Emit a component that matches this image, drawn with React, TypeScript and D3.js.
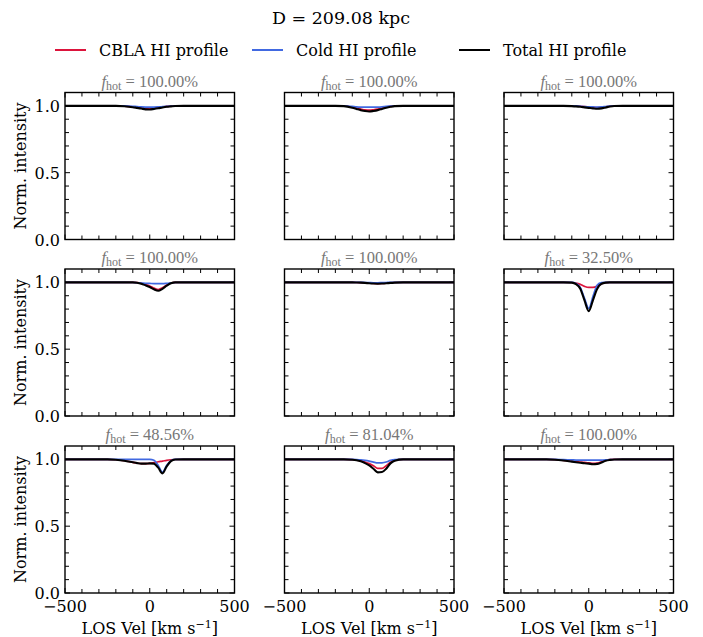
import React from "react";
import * as d3 from "d3";

const TITLE = "D = 209.08 kpc";
const LEGEND_LABELS = ["CBLA HI profile", "Cold HI profile", "Total HI profile"];
const SERIES_COLORS = ["#DC143C", "#4169E1", "#000000"];

const X_TICKS_MAJOR = [-500, 0, 500];
const X_TICKS_MINOR = [-400, -300, -200, -100, 100, 200, 300, 400];
const Y_TICKS_MAJOR = [0.0, 0.5, 1.0];
const Y_TICKS_MINOR = [0.1, 0.2, 0.3, 0.4, 0.6, 0.7, 0.8, 0.9];

const F_HOT = ["100.00", "100.00", "100.00", "100.00", "100.00", "32.50", "48.56", "81.04", "100.00"];

// LOS velocity grid [km/s]
const VEL = [-500, -250, -200, -150, -100, -75, -50, -25, 0, 25, 50, 75, 100, 125, 150, 200, 250, 500];

// CBLA HI profiles, one row per panel
const CBLA = [
  [1, 1, 1, 0.998, 0.993, 0.99, 0.986, 0.981, 0.98, 0.984, 0.988, 0.992, 0.996, 0.998, 0.999, 1, 1, 1],
  [1, 1, 1, 0.999, 0.99, 0.983, 0.976, 0.97, 0.968, 0.971, 0.976, 0.983, 0.99, 0.996, 0.999, 1, 1, 1],
  [1, 1, 1, 1, 0.999, 0.998, 0.997, 0.995, 0.992, 0.989, 0.987, 0.989, 0.993, 0.997, 1, 1, 1, 1],
  [1, 1, 1, 1, 1, 0.998, 0.993, 0.984, 0.973, 0.957, 0.946, 0.96, 0.98, 0.995, 1, 1, 1, 1],
  [1, 1, 1, 1, 1, 0.999, 0.998, 0.996, 0.994, 0.992, 0.991, 0.992, 0.994, 0.997, 0.999, 1, 1, 1],
  [1, 1, 1, 1, 0.999, 0.995, 0.985, 0.97, 0.962, 0.962, 0.972, 0.99, 0.998, 1, 1, 1, 1, 1],
  [1, 1, 0.997, 0.99, 0.978, 0.972, 0.968, 0.968, 0.97, 0.975, 0.982, 0.987, 0.993, 0.997, 0.999, 1, 1, 1],
  [1, 1, 1, 1, 0.998, 0.995, 0.99, 0.98, 0.968, 0.952, 0.933, 0.932, 0.952, 0.978, 0.993, 1, 1, 1],
  [1, 1, 0.998, 0.993, 0.987, 0.984, 0.98, 0.977, 0.974, 0.97, 0.972, 0.982, 0.993, 0.998, 1, 1, 1, 1],
];

// Cold HI profiles
const COLD = [
  [1, 1, 1, 1, 0.997, 0.994, 0.992, 0.991, 0.991, 0.991, 0.992, 0.994, 0.996, 0.998, 1, 1, 1, 1],
  [1, 1, 1, 1, 0.996, 0.993, 0.991, 0.99, 0.99, 0.99, 0.991, 0.993, 0.996, 0.998, 1, 1, 1, 1],
  [1, 1, 1, 1, 1, 1, 0.997, 0.994, 0.993, 0.992, 0.991, 0.992, 0.995, 0.998, 1, 1, 1, 1],
  [1, 1, 1, 1, 0.999, 0.997, 0.995, 0.993, 0.992, 0.991, 0.991, 0.991, 0.993, 0.996, 0.999, 1, 1, 1],
  [1, 1, 1, 1, 1, 1, 1, 0.999, 0.998, 0.997, 0.997, 0.998, 0.999, 1, 1, 1, 1, 1],
  [1, 1, 1, 1, 1, 0.992, 0.962, 0.88, 0.805, 0.895, 0.98, 0.998, 1, 1, 1, 1, 1, 1],
  [1, 1, 1, 1, 1, 1, 1, 1, 1, 0.993, 0.955, 0.905, 0.955, 0.99, 1, 1, 1, 1],
  [1, 1, 1, 1, 1, 0.999, 0.997, 0.993, 0.987, 0.979, 0.973, 0.974, 0.98, 0.992, 0.998, 1, 1, 1],
  [1, 1, 1, 0.998, 0.996, 0.995, 0.995, 0.994, 0.994, 0.994, 0.994, 0.995, 0.996, 0.998, 0.999, 1, 1, 1],
];

// Total HI profiles
const TOTAL = [
  [1, 1, 1, 0.997, 0.99, 0.985, 0.98, 0.974, 0.973, 0.977, 0.982, 0.988, 0.993, 0.996, 0.999, 1, 1, 1],
  [1, 1, 1, 0.998, 0.986, 0.977, 0.968, 0.961, 0.958, 0.962, 0.968, 0.977, 0.986, 0.993, 0.998, 1, 1, 1],
  [1, 1, 1, 1, 0.998, 0.996, 0.993, 0.989, 0.985, 0.981, 0.978, 0.981, 0.988, 0.995, 0.999, 1, 1, 1],
  [1, 1, 1, 1, 1, 0.997, 0.99, 0.978, 0.965, 0.948, 0.937, 0.952, 0.975, 0.993, 1, 1, 1, 1],
  [1, 1, 1, 1, 1, 0.999, 0.998, 0.996, 0.993, 0.991, 0.99, 0.991, 0.993, 0.996, 0.998, 1, 1, 1],
  [1, 1, 1, 1, 0.998, 0.987, 0.953, 0.865, 0.785, 0.868, 0.953, 0.99, 0.998, 1, 1, 1, 1, 1],
  [1, 1, 0.997, 0.99, 0.978, 0.972, 0.968, 0.968, 0.97, 0.968, 0.938, 0.895, 0.948, 0.987, 0.999, 1, 1, 1],
  [1, 1, 1, 1, 0.997, 0.993, 0.985, 0.972, 0.955, 0.93, 0.903, 0.905, 0.93, 0.97, 0.99, 1, 1, 1],
  [1, 1, 0.997, 0.991, 0.983, 0.979, 0.975, 0.971, 0.968, 0.964, 0.966, 0.977, 0.99, 0.996, 0.999, 1, 1, 1],
];

const COL_X = [65, 284.5, 504];
const ROW_Y = [92.5, 269, 446];
const PW = 169.5;
const PH = 147;
const FONT = "DejaVu Serif";
const MATH_FONT = "Liberation Serif";

function Panel({ idx }: { idx: number }) {
  const r = Math.floor(idx / 3);
  const c = idx % 3;
  const x0 = COL_X[c];
  const y0 = ROW_Y[r];
  const x = d3.scaleLinear().domain([-500, 500]).range([x0, x0 + PW]);
  const y = d3.scaleLinear().domain([0, 1.1]).range([y0 + PH, y0]);
  const line = (vals: number[]) =>
    d3
      .line<number>()
      .x((_, i) => x(VEL[i]))
      .y((d) => y(d))
      .curve(d3.curveMonotoneX)(vals) || "";
  const series = [CBLA[idx], COLD[idx], TOTAL[idx]];
  const widths = [1.7, 1.7, 2.1];
  const clipId = `clip${idx}`;
  const majLen = 5;
  const minLen = 4;
  const txt = { fontFamily: FONT, fontSize: 16 };
  return (
    <g>
      <defs>
        <clipPath id={clipId}>
          <rect x={x0} y={y0} width={PW} height={PH} />
        </clipPath>
      </defs>
      <g clipPath={`url(#${clipId})`}>
        {series.map((s, k) => (
          <path key={k} d={line(s)} fill="none" stroke={SERIES_COLORS[k]} strokeWidth={widths[k]} strokeLinejoin="round" />
        ))}
      </g>
      {[...X_TICKS_MAJOR.map((t) => [t, majLen]), ...X_TICKS_MINOR.map((t) => [t, minLen])].map(([t, L], i) => (
        <g key={"xt" + i} stroke="#000" strokeWidth={1}>
          <line x1={x(t)} x2={x(t)} y1={y0 + PH} y2={y0 + PH - L} />
          <line x1={x(t)} x2={x(t)} y1={y0} y2={y0 + L} />
        </g>
      ))}
      {[...Y_TICKS_MAJOR.map((t) => [t, majLen]), ...Y_TICKS_MINOR.map((t) => [t, minLen])].map(([t, L], i) => (
        <g key={"yt" + i} stroke="#000" strokeWidth={1}>
          <line x1={x0} x2={x0 + L} y1={y(t)} y2={y(t)} />
          <line x1={x0 + PW} x2={x0 + PW - L} y1={y(t)} y2={y(t)} />
        </g>
      ))}
      <rect x={x0} y={y0} width={PW} height={PH} fill="none" stroke="#000" strokeWidth={1.4} />
      {c === 0 &&
        Y_TICKS_MAJOR.map((t) => (
          <text key={"yl" + t} x={x0 - 5} y={y(t) + 6} textAnchor="end" style={txt}>
            {t.toFixed(1)}
          </text>
        ))}
      {r === 2 &&
        X_TICKS_MAJOR.map((t) => (
          <text key={"xl" + t} x={x(t)} y={y0 + PH + 19} textAnchor="middle" style={txt}>
            {t < 0 ? "\u2212" + Math.abs(t) : String(t)}
          </text>
        ))}
      {r === 2 && (
        <text x={x0 + PW / 2} y={y0 + PH + 41} textAnchor="middle" style={txt}>
          LOS Vel [km s
          <tspan dy={-6} style={{ fontSize: 11 }}>{"\u22121"}</tspan>
          <tspan dy={6}>]</tspan>
        </text>
      )}
      {c === 0 && (
        <text transform={`translate(${x0 - 39},${y0 + PH / 2}) rotate(-90)`} textAnchor="middle" style={txt}>
          Norm. intensity
        </text>
      )}
      <text x={x0 + PW / 2} y={y0 - 6} textAnchor="middle" fill="#777" style={{ fontFamily: MATH_FONT, fontSize: 16.5 }}>
        <tspan style={{ fontStyle: "italic" }}>f</tspan>
        <tspan dy={3} style={{ fontSize: 12 }}>hot</tspan>
        <tspan dy={-3}>{" = " + F_HOT[idx] + "%"}</tspan>
      </text>
    </g>
  );
}

export default function App() {
  const legendX = [55, 252, 459];
  return (
    <svg width={703} height={637} style={{ position: "absolute", left: 0, top: 0, background: "#fff" }} xmlns="http://www.w3.org/2000/svg">
      <rect width={703} height={637} fill="#fff" />
      <text x={341} y={24} textAnchor="middle" style={{ fontFamily: FONT, fontSize: 17.5 }}>
        {TITLE}
      </text>
      {LEGEND_LABELS.map((lab, i) => (
        <g key={lab}>
          <line x1={legendX[i]} x2={legendX[i] + 31} y1={50} y2={50} stroke={SERIES_COLORS[i]} strokeWidth={2} />
          <text x={legendX[i] + 44} y={55.5} style={{ fontFamily: FONT, fontSize: 16 }}>
            {lab}
          </text>
        </g>
      ))}
      {F_HOT.map((_, i) => (
        <Panel key={i} idx={i} />
      ))}
    </svg>
  );
}
